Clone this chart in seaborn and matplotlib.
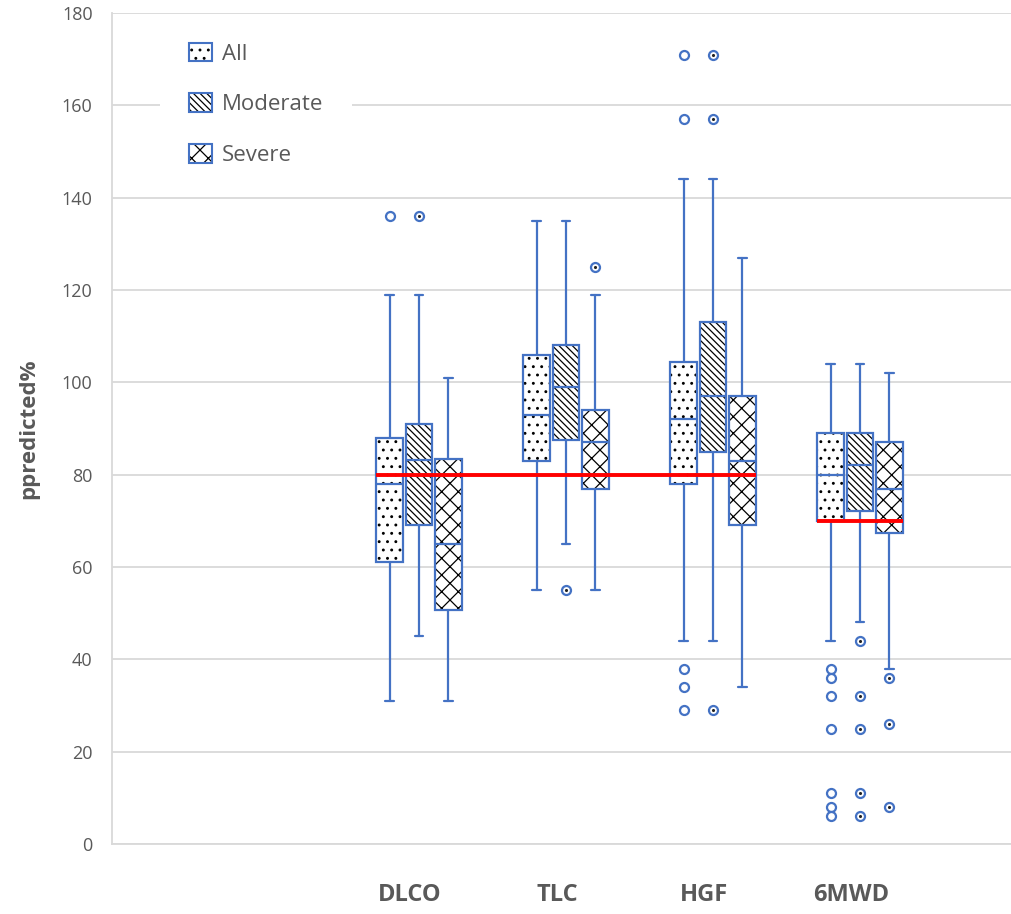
import itertools

import matplotlib
matplotlib.use("Agg")
import matplotlib.pyplot as plt
from matplotlib.patches import Patch, PathPatch
import pandas as pd
import seaborn as sns

# categories and groups
categories = ["DLCO", "TLC", "HGF", "6MWD"]
groups = ["All", "Moderate", "Severe"]

# box statistics: one row per category, [All, Moderate, Severe]
whis_low = [[31, 45, 31], [55, 65, 55], [44, 44, 34], [44, 48, 38]]
q1 = [[61, 69, 50.7], [83, 87.5, 77], [78, 85, 69], [70, 72.2, 67.3]]
median = [[78, 83.2, 65], [93, 99, 87], [92, 97, 83], [80, 82, 77]]
q3 = [[88, 91, 83.5], [106, 108, 94], [104.5, 113, 97], [89, 89, 87]]
whis_high = [[119, 119, 101], [135, 135, 119], [144, 144, 127], [104, 104, 102]]
outliers = [
    [[136], [136], []],
    [[], [55], [125]],
    [[171, 157, 38, 34, 29], [171, 157, 29], []],
    [[38, 36, 32, 25, 11, 8, 6], [44, 32, 25, 11, 6], [36, 26, 8]],
]

# red reference line per category
ref_line = [80, 80, 80, 70]

blue = "#4472C4"
grey = "#595959"
light = "#D9D9D9"
hatches = ["..", "\\\\\\\\\\", "xx"]
offsets = [-0.2, 0.0, 0.2]
box_w = 0.18

sns.set_theme(style="white")
plt.rcParams["font.family"] = ["Open Sans", "DejaVu Sans"]
plt.rcParams["hatch.linewidth"] = 0.9

fig = plt.figure(figsize=(10.11, 9.14), dpi=100)
ax = fig.add_axes([112 / 1011, 70 / 914, 899 / 1011, 831 / 914])

# boxes from the summary stats
stats, pos = [], []
for i in range(len(categories)):
    for j in range(len(groups)):
        stats.append(dict(whislo=whis_low[i][j], q1=q1[i][j], med=median[i][j],
                          q3=q3[i][j], whishi=whis_high[i][j], fliers=[]))
        pos.append(i + offsets[j])

art = ax.bxp(stats, positions=pos, widths=box_w, capwidths=0.06,
             patch_artist=True, showfliers=False,
             boxprops=dict(facecolor="white", edgecolor="black", linewidth=0),
             whiskerprops=dict(color=blue, linewidth=1.6),
             capprops=dict(color=blue, linewidth=1.6),
             medianprops=dict(color=blue, linewidth=1.6))

for k, box in enumerate(art["boxes"]):
    box.set_hatch(hatches[k % 3])
    ax.add_patch(PathPatch(box.get_path(), fill=False, edgecolor=blue,
                           linewidth=1.6, zorder=box.get_zorder() + 0.2))

# outliers
rows = []
for i in range(len(categories)):
    for j, g in enumerate(groups):
        for v in outliers[i][j]:
            rows.append({"x": i + offsets[j], "value": v, "group": g})
out = pd.DataFrame(rows)
sns.scatterplot(data=out, x="x", y="value", ax=ax, marker="o", s=42,
                color="white", edgecolor=blue, linewidth=1.6,
                legend=False, zorder=4)
# the patterned groups show a dark speck inside the circle
sns.scatterplot(data=out[out["group"] != "All"], x="x", y="value", ax=ax,
                marker="o", s=5, color="#222222", linewidth=0,
                legend=False, zorder=5)

# red reference lines, joined where neighbouring categories share a value
for val, run in itertools.groupby(range(len(categories)), key=lambda i: ref_line[i]):
    run = list(run)
    ax.hlines(val, run[0] + offsets[0] - box_w / 2,
              run[-1] + offsets[-1] + box_w / 2,
              color="#FF0000", linewidth=2.8, zorder=6)

ax.set_xlim(-2.088, 4.027)
ax.set_ylim(0, 180)
ax.set_yticks(range(0, 181, 20))
ax.set_xticks([i - 0.06 for i in range(len(categories))])
ax.set_xticklabels(categories, fontsize=17, fontweight="bold", color=grey)
ax.tick_params(axis="x", length=0, pad=28)
ax.tick_params(axis="y", length=0, pad=14, labelsize=13, labelcolor=grey)
ax.set_xlabel("")
ax.set_ylabel("ppredicted%", fontsize=16, fontweight="bold", color=grey,
              labelpad=16)

ax.grid(axis="y", color=light, linewidth=1.3)
ax.set_axisbelow(True)
for side in ["top", "right"]:
    ax.spines[side].set_visible(False)
for side in ["left", "bottom"]:
    ax.spines[side].set_color(light)
    ax.spines[side].set_linewidth(1.3)

handles = [(Patch(facecolor="white", edgecolor="black", linewidth=0, hatch=h),
            Patch(facecolor="none", edgecolor=blue, linewidth=1.5))
           for h in hatches]
leg = ax.legend(handles, groups, loc="upper left",
                bbox_to_anchor=(0.0534, 0.999), borderaxespad=0,
                borderpad=1.3, fontsize=16, handlelength=1.05,
                handleheight=0.9, labelspacing=1.3, handletextpad=0.45,
                frameon=True, fancybox=False, framealpha=1,
                facecolor="white", edgecolor="none", labelcolor=grey)

fig.savefig("out.png", dpi=100)
